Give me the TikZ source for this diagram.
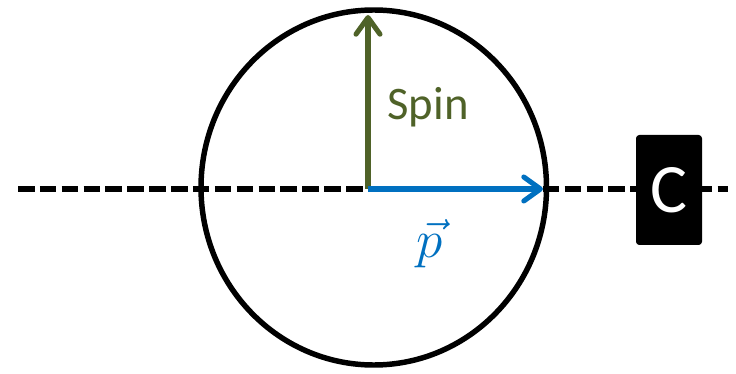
\RequirePackage{fix-cm}
\documentclass[tikz,border=0pt]{standalone}
\usepackage{fontspec}
\setmainfont{Carlito}
\usetikzlibrary{arrows.meta}
\definecolor{spingreen}{RGB}{79,98,40}
\definecolor{pblue}{RGB}{0,112,192}
\tikzset{
  axisline/.style={line width=3.8pt, dash pattern=on 12.4pt off 4pt},
  ring/.style={line width=4.1pt},
  vec/.style={line width=3.8pt, -{Straight Barb[length=12.5pt,width=18pt,line cap=round,line join=round]}},
  cbox/.style={fill=black, rounded corners=2.5pt, minimum width=49.5pt, minimum height=82.5pt, inner sep=0pt, text=white, font=\fontsize{52}{52}\selectfont},
}
\begin{document}
\begin{tikzpicture}[x=0.75pt,y=-0.75pt]
\useasboundingbox (0,0) rectangle (736,374);
\coordinate (L) at (18,189);
\coordinate (R) at (728,189);
\coordinate (O) at (368,189);
\coordinate (T) at (368,15);
\coordinate (E) at (543,189);
\draw[axisline] (L) -- (R);
\node[cbox] (C) at (669,190) {C};
\draw[ring] (373.75,187.5) ellipse [x radius=172.75, y radius=177.5];
\draw[vec, spingreen] (O) -- (T);
\draw[vec, pblue] (O) -- (E);
\node[text=spingreen, font=\fontsize{35}{35}\selectfont, anchor=base] (spin) at (428,120) {Spin};
\node[text=pblue, font=\fontsize{40}{40}\selectfont] (p) at (430,244) {$\vec{p}$};
\end{tikzpicture}
\end{document}
